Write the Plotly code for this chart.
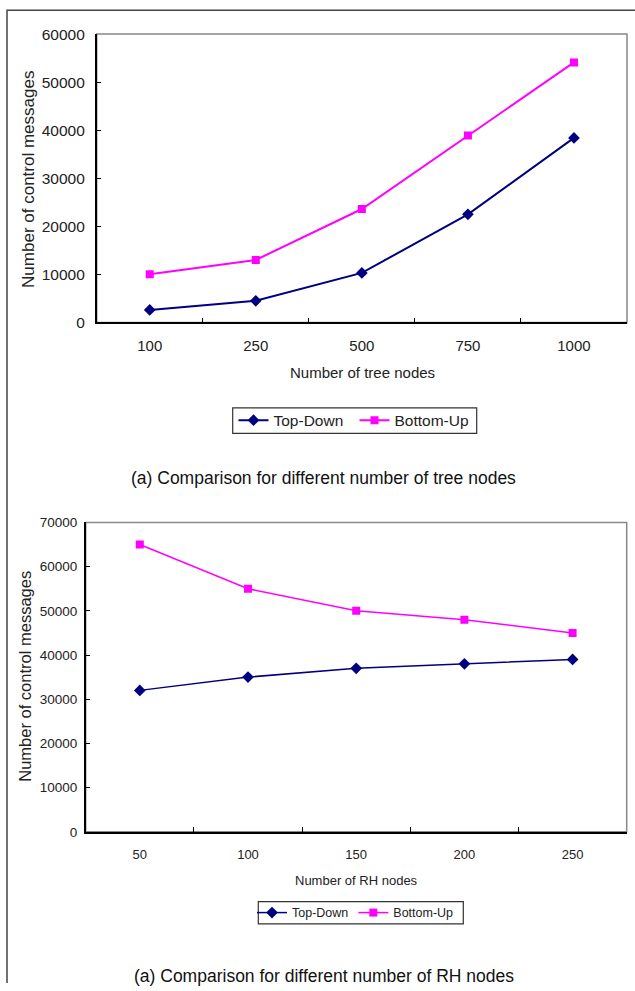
import plotly.graph_objects as go

# ---- data ----
tree_nodes = ["100", "250", "500", "750", "1000"]
td_tree = [2600, 4500, 10300, 22500, 38400]
bu_tree = [10000, 13000, 23600, 38900, 54100]

rh_nodes = ["50", "100", "150", "200", "250"]
td_rh = [32000, 35000, 37000, 38000, 39000]
bu_rh = [65000, 55000, 50000, 48000, 45000]

series_names = ["Top-Down", "Bottom-Up"]
y_title = "Number of control messages"
x_title_top = "Number of tree nodes"
x_title_bot = "Number of RH nodes"
caption_top = "(a) Comparison for different number of tree nodes"
caption_bot = "(a) Comparison for different number of RH nodes"

W, H = 635, 991
NAVY = "#000080"
PINK = "#FF00FF"
FONT = "Liberation Sans, Arial, sans-serif"
NARROW = "Liberation Sans Narrow, Liberation Sans, Arial, sans-serif"

# the page is photographed with an 8px top/bottom page margin squeezed into the frame;
# convert target pixel rows of the picture into figure rows
SQ = 991 / 1007
OFF = 8


def px(x):
    return x / W


def py(t):
    y = t / SQ - OFF
    return 1 - y / H


fig = go.Figure()

# top chart
fig.add_trace(go.Scatter(x=tree_nodes, y=td_tree, name=series_names[0], mode="lines+markers",
                         line=dict(color=NAVY, width=2),
                         marker=dict(symbol="diamond", size=9, color=NAVY),
                         xaxis="x", yaxis="y", legend="legend"))
fig.add_trace(go.Scatter(x=tree_nodes, y=bu_tree, name=series_names[1], mode="lines+markers",
                         line=dict(color=PINK, width=2),
                         marker=dict(symbol="square", size=8, color=PINK),
                         xaxis="x", yaxis="y", legend="legend"))
# bottom chart
fig.add_trace(go.Scatter(x=rh_nodes, y=td_rh, name=series_names[0], mode="lines+markers",
                         line=dict(color=NAVY, width=1.5),
                         marker=dict(symbol="diamond", size=9, color=NAVY),
                         xaxis="x2", yaxis="y2", legend="legend2"))
fig.add_trace(go.Scatter(x=rh_nodes, y=bu_rh, name=series_names[1], mode="lines+markers",
                         line=dict(color=PINK, width=1.5),
                         marker=dict(symbol="square", size=8, color=PINK),
                         xaxis="x2", yaxis="y2", legend="legend2"))

common_x = dict(type="category", range=[-0.5, 4.5], showgrid=False, zeroline=False,
                showline=True, linecolor="black", linewidth=1.5,
                ticks="inside", tickson="boundaries", ticklen=5, tickcolor="black", tickwidth=1,
                fixedrange=True)
common_y = dict(showgrid=False, zeroline=False, showline=True, linecolor="black", linewidth=1.5,
                ticks="inside", ticklen=5, tickcolor="black", tickwidth=1, dtick=10000,
                tickformat="d", fixedrange=True)

fig.update_layout(
    width=W, height=H,
    margin=dict(l=0, r=0, t=0, b=0),
    paper_bgcolor="white", plot_bgcolor="white",
    font=dict(family=FONT, color="#222"),
    xaxis=dict(**common_x, domain=[px(96.7), px(627)], anchor="y",
               tickfont=dict(size=15, family=FONT, color="#222"), ticklabelstandoff=9),
    yaxis=dict(**common_y, domain=[py(321.7), py(33)], anchor="x", range=[0, 60000],
               tickfont=dict(size=15.5, family=FONT, color="#222"), ticklabelstandoff=7),
    xaxis2=dict(**common_x, domain=[px(85.7), px(626.7)], anchor="y2",
                tickfont=dict(size=13, family=NARROW, color="#222"), ticklabelstandoff=10),
    yaxis2=dict(**common_y, domain=[py(831.7), py(522)], anchor="x2", range=[0, 70000],
                tickfont=dict(size=13.5, family=NARROW, color="#222"), ticklabelstandoff=4),
    legend=dict(orientation="h", x=px(233.5), xanchor="left", y=py(420), yanchor="middle",
                borderwidth=0, bgcolor="rgba(0,0,0,0)", entrywidth=76,
                font=dict(size=15.5, family=FONT, color="#222"), itemwidth=30),
    legend2=dict(orientation="h", x=px(252), xanchor="left", y=py(913), yanchor="middle",
                 borderwidth=0, bgcolor="rgba(0,0,0,0)",
                 font=dict(size=12.5, family=NARROW, color="#222"), itemwidth=30),
    showlegend=True,
)


def ann(text, x, y, size, family=FONT, angle=0, color="#222"):
    return dict(text=text, x=px(x), y=py(y), xref="paper", yref="paper",
                xanchor="center", yanchor="middle", textangle=angle,
                showarrow=False, font=dict(size=size, family=family, color=color))


annotations = [
    ann(y_title, 29, 179, 17, angle=-90),
    ann(x_title_top, 362, 372, 15),
    ann(caption_top, 323.5, 477, 17.5, color="#111"),
    ann(y_title, 25, 676.5, 16.5, angle=-90),
    ann(x_title_bot, 356.5, 880, 13, family=NARROW),
    ann(caption_bot, 324, 976.5, 17.5, color="#111"),
]
fig.update_layout(annotations=annotations)

shapes = [
    # plot-area borders (gray), drawn below the black axis lines
    dict(type="rect", xref="x domain", yref="y domain", x0=0, x1=1, y0=0, y1=1,
         line=dict(color="#888", width=1.5), layer="below"),
    dict(type="rect", xref="x2 domain", yref="y2 domain", x0=0, x1=1, y0=0, y1=1,
         line=dict(color="#888", width=1.5), layer="below"),
    # legend boxes
    dict(type="rect", xref="paper", yref="paper", x0=px(232.7), x1=px(476.7),
         y0=py(432.7), y1=py(407.3), line=dict(color="#333", width=1.2), layer="below"),
    dict(type="rect", xref="paper", yref="paper", x0=px(258.3), x1=px(463.3),
         y0=py(924), y1=py(901.7), line=dict(color="#333", width=1.2), layer="below"),
    # outer frame (left and top edges)
    dict(type="path", xref="paper", yref="paper",
         path=f"M {px(7)} 0 L {px(7)} {py(9)} L 1 {py(9)}",
         line=dict(color="#444", width=1.5)),
]
fig.update_layout(shapes=shapes)

page_css = ("var s=document.createElement('style');"
            "s.innerHTML='html,body{margin:0 !important;padding:0 !important;overflow:hidden;}';"
            "document.head.appendChild(s);")
fig.write_html("out.html", config={"displayModeBar": False}, post_script=page_css)
